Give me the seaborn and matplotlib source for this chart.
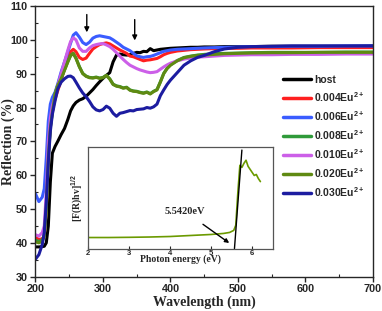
import numpy as np
import pandas as pd
import matplotlib
matplotlib.use("Agg")
import matplotlib.pyplot as plt
from matplotlib.ticker import MultipleLocator
import seaborn as sns

# wavelength grid (nm) shared by all spectra
wavelength = [200, 205, 210, 213, 216, 219, 222, 225, 229, 233, 238, 243, 248, 252, 256, 260,
              265, 270, 275, 280, 285, 290, 295, 300, 305, 310, 315, 320, 325, 330, 335, 340,
              345, 350, 355, 360, 365, 370, 375, 380, 385, 390, 395, 400, 410, 420, 430, 440,
              450, 465, 480, 500, 520, 550, 580, 620, 660, 700]

host = [38.8, 38.8, 38.9, 39.0, 40.0, 45.0, 58.0, 66.5, 68.5, 70.0, 72.0, 73.8, 76.5, 79.0, 80.5, 81.5,
        82.2, 82.6, 83.3, 84.3, 85.3, 86.5, 87.6, 88.6, 89.5, 90.3, 93.5, 95.5, 95.8, 95.6, 95.5, 95.6,
        96.0, 96.3, 96.2, 96.6, 96.5, 97.4, 96.8, 97.0, 97.2, 97.3, 97.4, 97.5, 97.6, 97.7, 97.8, 97.8,
        97.9, 97.9, 98.0, 98.0, 98.0, 98.1, 98.1, 98.1, 98.1, 98.2]
eu004 = [41.6, 41.0, 41.2, 42.0, 50.0, 66.0, 75.0, 79.0, 82.5, 85.0, 88.0, 91.5, 94.5, 96.5, 97.2, 96.5,
         94.8, 94.2, 94.6, 96.0, 97.3, 98.0, 98.6, 98.9, 99.1, 98.8, 98.2, 97.6, 97.0, 96.5, 96.0, 95.2,
         95.0, 94.6, 94.2, 93.8, 94.0, 94.1, 94.3, 94.5, 95.0, 95.6, 96.0, 96.3, 96.7, 96.9, 97.1, 97.2,
         97.3, 97.4, 97.5, 97.5, 97.6, 97.6, 97.6, 97.7, 97.7, 97.7]
eu006 = [54.5, 52.2, 53.5, 56.0, 65.0, 76.0, 81.0, 83.0, 84.5, 87.0, 90.5, 93.5, 96.5, 99.0, 101.4, 102.1,
         100.8, 99.2, 98.6, 99.3, 100.5, 101.0, 101.2, 101.0, 100.8, 100.6, 100.0, 99.3, 98.6, 97.8, 97.3, 96.8,
         96.0, 95.3, 95.0, 94.8, 95.0, 95.1, 95.4, 95.8, 96.2, 96.6, 96.8, 97.0, 97.2, 97.3, 97.4, 97.5,
         97.6, 97.7, 97.8, 97.9, 98.0, 98.0, 98.1, 98.1, 98.2, 98.2]
eu008 = [40.8, 40.4, 40.8, 42.2, 50.5, 65.5, 74.2, 78.7, 84.1, 86.6, 88.6, 91.1, 93.6, 95.4, 96.0, 94.6,
         92.1, 90.1, 89.3, 88.9, 88.8, 89.0, 88.7, 88.9, 89.5, 88.5, 86.9, 86.4, 86.2, 85.8, 86.0, 85.2,
         84.9, 84.8, 84.5, 84.3, 84.6, 84.1, 84.8, 85.3, 87.6, 90.1, 91.6, 92.6, 93.9, 94.8, 95.2, 95.5,
         95.7, 95.9, 96.0, 96.1, 96.2, 96.3, 96.3, 96.3, 96.4, 96.4]
eu010 = [42.4, 42.0, 43.0, 45.0, 55.0, 70.0, 77.0, 80.5, 83.5, 86.5, 90.0, 93.5, 97.0, 99.5, 100.6, 100.0,
         97.6, 96.6, 96.6, 97.6, 98.3, 98.6, 98.8, 98.9, 98.5, 98.0, 97.2, 96.2, 95.2, 94.2, 93.3, 92.5,
         92.0, 91.5, 91.1, 90.8, 90.5, 90.3, 90.4, 90.6, 91.3, 92.0, 92.6, 93.1, 93.8, 94.3, 94.6, 94.9,
         95.0, 95.2, 95.4, 95.5, 95.6, 95.6, 95.7, 95.7, 95.8, 95.8]
eu020 = [40.3, 40.0, 40.5, 42.0, 50.0, 65.0, 74.0, 78.5, 84.0, 86.5, 88.5, 91.0, 93.5, 95.3, 96.0, 94.5,
         92.0, 90.0, 89.2, 88.8, 88.7, 88.9, 88.6, 88.8, 89.5, 88.4, 86.8, 86.3, 86.1, 85.7, 85.9, 85.1,
         84.8, 84.7, 84.4, 84.2, 84.5, 84.0, 84.7, 85.2, 87.5, 90.0, 91.5, 92.5, 93.8, 94.7, 95.1, 95.4,
         95.5, 95.7, 95.9, 96.0, 96.1, 96.2, 96.2, 96.3, 96.3, 96.3]
eu030 = [35.2, 36.5, 39.5, 43.0, 52.0, 64.0, 73.0, 78.0, 82.0, 85.5, 87.5, 88.5, 89.2, 89.3, 88.8, 87.5,
         85.8, 84.3, 83.2, 81.8, 80.2, 79.3, 79.0, 79.4, 80.4, 79.8, 78.3, 77.4, 78.3, 78.5, 78.8, 79.1,
         79.0, 79.4, 79.5, 79.6, 80.0, 79.8, 80.2, 81.0, 83.5, 85.2, 86.8, 88.1, 90.3, 92.5, 93.8, 94.8,
         95.4, 96.5, 97.3, 97.8, 98.0, 98.1, 98.2, 98.2, 98.2, 98.2]

labels = ["host", "0.004Eu$^{2+}$", "0.006Eu$^{2+}$", "0.008Eu$^{2+}$",
          "0.010Eu$^{2+}$", "0.020Eu$^{2+}$", "0.030Eu$^{2+}$"]
colors = ["#000000", "#ff1f1f", "#3a5cff", "#2f9a3a", "#cc5fe8", "#5f8a12", "#1c1ca0"]

# inset: Kubelka-Munk plot of one sample
energy = [2.0, 2.5, 3.0, 3.5, 4.0, 4.5, 5.0, 5.3, 5.45, 5.55, 5.6, 5.65, 5.7,
          5.75, 5.8, 5.85, 5.9, 5.95, 6.0, 6.05, 6.1, 6.15, 6.2]
km = [1.1, 1.1, 1.12, 1.15, 1.2, 1.3, 1.4, 1.5, 1.6, 1.8, 2.3, 5.5, 8.2,
      8.0, 8.4, 8.7, 8.1, 7.8, 7.5, 7.2, 7.3, 6.9, 6.6]
tangent_x = [5.568, 5.749]
tangent_y = [0.0, 9.7]

series = [host, eu004, eu006, eu008, eu010, eu020, eu030]
df = pd.concat([pd.DataFrame({"wavelength": wavelength, "reflection": s, "sample": lab})
                for s, lab in zip(series, labels)], ignore_index=True)

sns.set_style("ticks")
plt.rcParams["font.family"] = ["Liberation Sans", "DejaVu Sans"]
plt.rcParams["font.weight"] = "bold"
plt.rcParams["mathtext.fontset"] = "custom"
plt.rcParams["mathtext.rm"] = "Liberation Sans:bold"
plt.rcParams["mathtext.it"] = "Liberation Serif:bold"
plt.rcParams["mathtext.bf"] = "Liberation Sans:bold"

fig = plt.figure(figsize=(3.82, 3.11), dpi=100)
ax = fig.add_axes([0.0929, 0.1103, 0.8835, 0.8704])

sns.lineplot(data=df, x="wavelength", y="reflection", hue="sample", hue_order=labels,
             palette=colors, linewidth=2.2, sort=False, ax=ax)

ax.set_xlim(200, 700)
ax.set_ylim(30, 110)
ax.xaxis.set_major_locator(MultipleLocator(100))
ax.xaxis.set_minor_locator(MultipleLocator(50))
ax.yaxis.set_major_locator(MultipleLocator(10))
ax.yaxis.set_minor_locator(MultipleLocator(5))
ax.tick_params(which="major", direction="out", length=3.5, width=1, labelsize=7.8, pad=2)
ax.tick_params(which="minor", direction="in", length=2.5, width=0.8)
for t in ax.get_xticklabels() + ax.get_yticklabels():
    t.set_fontweight("bold")
for sp in ax.spines.values():
    sp.set_linewidth(1)

ax.set_xlabel("Wavelength (nm)", family="Liberation Serif", fontsize=10,
              fontweight="bold", labelpad=1)
ax.set_ylabel("Reflection (%)", family="Liberation Serif", fontsize=10,
              fontweight="bold")
ax.yaxis.set_label_coords(-0.062, 0.5)

# arrows marking absorption features
for xa, y0, y1 in [(276, 108.3, 101.4), (347, 106.8, 99.0)]:
    ax.annotate("", xy=(xa, y1), xytext=(xa, y0),
                arrowprops=dict(arrowstyle="-|>", color="black", lw=1, mutation_scale=7))

leg = ax.legend(loc="upper left", bbox_to_anchor=(0.72, 0.76), frameon=False,
                fontsize=7.5, handlelength=2.75, handletextpad=0.3, labelspacing=0.56,
                borderaxespad=0)
for line in leg.get_lines():
    line.set_linewidth(2.5)
for t in leg.get_texts():
    t.set_fontweight("bold")

# inset
ins = fig.add_axes([0.2304, 0.2003, 0.4835, 0.327])
ins.plot(energy, km, color="#6b9a00", lw=1.2)
ins.plot(tangent_x, tangent_y, color="black", lw=1)
ins.set_xlim(2, 6.5)
ins.set_ylim(0, 10)
ins.set_yticks([])
ins.xaxis.set_major_locator(MultipleLocator(1))
ins.tick_params(axis="x", direction="in", length=2, labelsize=5.5, pad=1)
for t in ins.get_xticklabels():
    t.set_fontweight("bold")
for sp in ins.spines.values():
    sp.set_linewidth(0.9)
    sp.set_color("#555555")
ins.set_xlabel("Photon energy (eV)", family="Liberation Serif", fontsize=7,
               fontweight="bold", labelpad=-2)
ins.set_ylabel("[F(R)hv]$^{1/2}$", family="Liberation Serif", fontsize=7,
               fontweight="bold", labelpad=3)
ins.annotate("5.5420eV", xy=(5.44, 0.56), xytext=(4.37, 3.64), ha="center", va="center",
             family="Liberation Serif", fontsize=7.5, fontweight="bold",
             arrowprops=dict(arrowstyle="-|>", color="black", lw=1, mutation_scale=6,
                             shrinkA=6, shrinkB=0))

fig.savefig("out.png", dpi=100)
